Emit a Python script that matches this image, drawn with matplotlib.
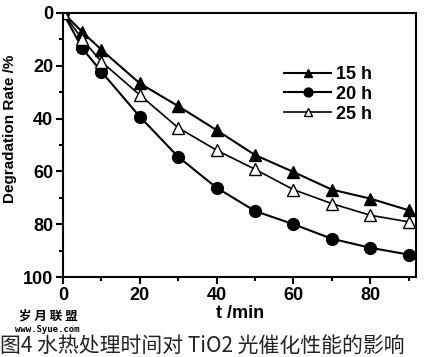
import matplotlib
matplotlib.use('Agg')
import matplotlib.pyplot as plt
from matplotlib.ticker import MultipleLocator

plt.rcParams['font.family'] = ['Liberation Sans', 'Noto Sans CJK SC', 'DejaVu Sans']

# 数据：时间 (min) 与降解率 (%)
t_min = [0, 5, 10, 20, 30, 40, 50, 60, 70, 80, 90]
rate_15h = [0, 7.2, 14.0, 26.7, 35.3, 44.4, 53.8, 60.2, 66.9, 70.3, 74.7]
rate_20h = [0, 13.4, 22.3, 39.3, 54.5, 66.2, 75.0, 80.0, 85.5, 88.9, 91.5]
rate_25h = [0, 10.0, 18.5, 31.1, 43.5, 52.0, 59.2, 66.9, 72.2, 76.6, 79.1]
labels = ['15 h', '20 h', '25 h']

fig = plt.figure(figsize=(4.26, 3.57), dpi=100)
ax = fig.add_axes([0.148, 0.224, 0.829, 0.740])

ax.plot(t_min, rate_15h, '-^', color='black', lw=1.5, ms=8, mfc='black', label=labels[0])
ax.plot(t_min, rate_20h, '-o', color='black', lw=1.5, ms=8.5, mfc='black', label=labels[1])
ax.plot(t_min, rate_25h, '-^', color='black', lw=1.2, ms=8, mfc='white', label=labels[2])

ax.set_xlim(0, 92)
ax.set_ylim(100, 0)
ax.xaxis.set_major_locator(MultipleLocator(20))
ax.xaxis.set_minor_locator(MultipleLocator(10))
ax.yaxis.set_major_locator(MultipleLocator(20))
ax.yaxis.set_minor_locator(MultipleLocator(10))
ax.tick_params(which='both', direction='out', top=False, right=False, width=1.5)
ax.tick_params(which='major', length=5, labelsize=13, pad=2)
ax.tick_params(which='minor', length=3)
for lab in ax.get_xticklabels() + ax.get_yticklabels():
    lab.set_fontweight('bold')
for sp in ax.spines.values():
    sp.set_linewidth(1.5)

ax.set_xlabel('t /min', fontsize=13, fontweight='bold', labelpad=1)
ax.set_ylabel('Degradation Rate /%', fontsize=11, fontweight='bold',
              family=['Liberation Sans Narrow', 'Liberation Sans'])
ax.yaxis.set_label_coords(-0.13, 0.56)

leg = ax.legend(loc='upper left', bbox_to_anchor=(0.58, 0.86), frameon=False,
                fontsize=13, handlelength=2.6, handletextpad=0.3, labelspacing=0.15,
                markerscale=0.75)
for txt in leg.get_texts():
    txt.set_fontweight('bold')

# 图注与水印
cjk = ['Noto Sans CJK SC', 'DejaVu Sans']
fig.text(0.0, 0.030, '图4 水热处理时间对 TiO2 光催化性能的影响', fontsize=15,
         family=cjk, va='center', ha='left', color='#222222')
fig.text(0.045, 0.115, '岁 月 联 盟', fontsize=9, family=cjk,
         va='center', ha='left', color='black', fontweight='bold')
fig.text(0.035, 0.078, 'www.Syue.com', fontsize=6.5, va='center', ha='left', color='black',
         family=['DejaVu Sans Mono', 'DejaVu Sans'], fontweight='bold')

fig.savefig('out.png', dpi=100)
